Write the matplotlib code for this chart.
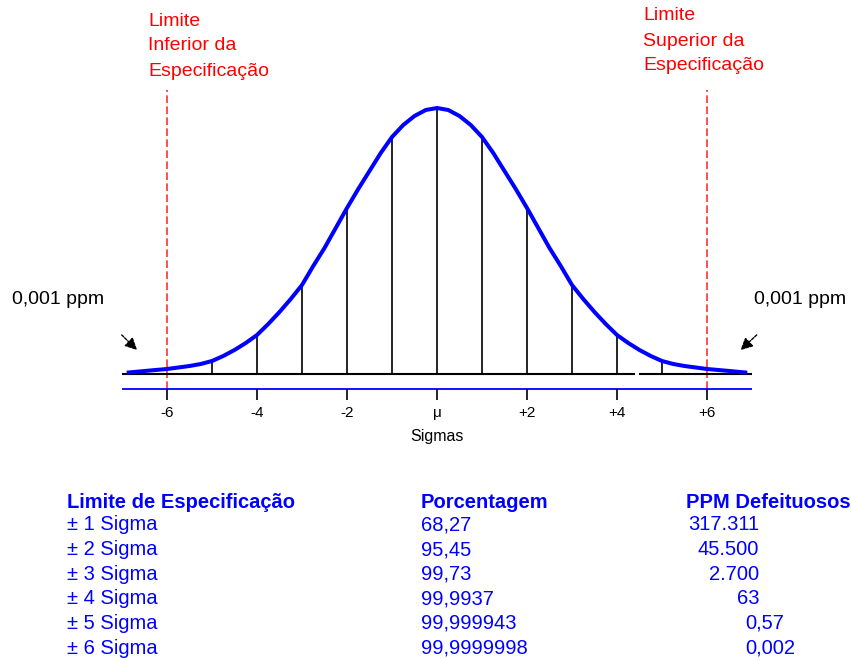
import matplotlib.pyplot as plt

plt.rcParams['font.family'] = ['Liberation Sans', 'DejaVu Sans']

# curve heights (x in sigmas, height in px above the baseline)
sigma_pts = [-6.85, -6.5, -6.25, -6, -5.75, -5.5, -5.25, -5, -4.75, -4.5, -4.25, -4,
             -3.75, -3.5, -3.25, -3, -2.75, -2.5, -2.25, -2, -1.75, -1.5, -1.25, -1,
             -0.75, -0.5, -0.25, 0, 0.25, 0.5, 0.75, 1, 1.25, 1.5, 1.75, 2,
             2.25, 2.5, 2.75, 3, 3.25, 3.5, 3.75, 4, 4.25, 4.5, 4.75, 5,
             5.25, 5.5, 5.75, 6, 6.25, 6.5, 6.85]
heights = [1.5, 3, 4, 5, 6.5, 8, 10, 13, 18, 24, 31, 39,
           50, 62, 75, 89, 108, 126, 146, 166, 185, 203, 221, 237,
           249, 258, 264, 266, 264, 258, 249, 237, 221, 203, 185, 166,
           146, 126, 108, 89, 75, 62, 50, 39, 31, 24, 18, 13,
           10, 8, 6.5, 5, 4, 3, 1.5]

line_pos = [-5, -4, -3, -2, -1, 0, 1, 2, 3, 4, 5]
tick_pos = [-6, -4, -2, 0, 2, 4, 6]
tick_labels = ['-6', '-4', '-2', 'μ', '+2', '+4', '+6']

spec_limits = [-6, 6]

table_header = ['Limite de Especificação', 'Porcentagem', 'PPM Defeituosos']
sigma_rows = ['± 1 Sigma', '± 2 Sigma', '± 3 Sigma', '± 4 Sigma', '± 5 Sigma', '± 6 Sigma']
percent = ['68,27', '95,45', '99,73', '99,9937', '99,999943', '99,9999998']
ppm = ['317.311', '45.500', '2.700', '63', '0,57', '0,002']

blue = '#0000ff'
W, H = 851, 660

fig = plt.figure(figsize=(W / 100, H / 100), dpi=100)
ax = fig.add_axes([0, 0, 1, 1])
# 1 sigma = 45 px, mean at x=437 px, baseline at y=374 px
ax.set_xlim(-437 / 45, (W - 437) / 45)
ax.set_ylim(-(H - 374), 374)
ax.axis('off')

# spec limit lines
ax.vlines(spec_limits, -15, 284, colors='#ff2020', linestyles=(0, (5, 2.2)), lw=1.1, zorder=1)

# baseline (with small gap) and lower blue axis
ax.hlines(0, -7.0, 4.39, colors='black', lw=1.5, zorder=2)
ax.hlines(0, 4.49, 7.0, colors='black', lw=1.5, zorder=2)
ax.hlines(-15, -7.0, 7.0, colors=blue, lw=1.3, zorder=2)
ax.vlines(tick_pos, -26, -15, colors='black', lw=1.2)

# vertical lines under the curve at integer sigmas
line_h = [heights[sigma_pts.index(s)] for s in line_pos]
ax.vlines(line_pos, 0, line_h, colors='black', lw=1.2, zorder=2)

ax.plot(sigma_pts, heights, color=blue, lw=2.9, solid_joinstyle='round', zorder=3)

for p, lab in zip(tick_pos, tick_labels):
    ax.text(p, -39, lab, ha='center', va='center', fontsize=11)
ax.text(0, -63, 'Sigmas', ha='center', va='center', fontsize=11.5)

# spec labels
for i, line in enumerate(['Limite', 'Inferior da', 'Especificação']):
    ax.text(-6.42, 353 - 25 * i, line, color='red', fontsize=14, ha='left', va='center')
for i, line in enumerate(['Limite', 'Superior da', 'Especificação']):
    ax.text(4.58, 358 - 25 * i, line, color='red', fontsize=14, ha='left', va='center')

# 0,001 ppm notes
ax.text(-9.44, 74, '0,001 ppm', fontsize=14, ha='left', va='center')
ax.text(7.04, 74, '0,001 ppm', fontsize=14, ha='left', va='center')
ax.annotate('', xy=(-6.62, 22), xytext=(-7.05, 41),
            arrowprops=dict(arrowstyle='-|>', color='black', lw=1, ls=(0, (2, 1)), mutation_scale=18))
ax.annotate('', xy=(6.7, 22), xytext=(7.15, 41),
            arrowprops=dict(arrowstyle='-|>', color='black', lw=1, ls=(0, (2, 1)), mutation_scale=18))

# table below the chart
col_x = [67, 421, 686]
for x, txt in zip(col_x, table_header):
    fig.text(x / W, 1 - 502 / H, txt, color=blue, fontsize=14.5, fontweight='bold', va='center')
for i in range(len(sigma_rows)):
    y = 1 - (525 + 24.6 * i) / H
    fig.text(67 / W, y, sigma_rows[i], color=blue, fontsize=14.5, va='center')
    fig.text(421 / W, y, percent[i], color=blue, fontsize=14.5, va='center')
    if i < 4:
        fig.text(759 / W, y, ppm[i], color=blue, fontsize=14.5, va='center', ha='right')
    else:
        fig.text(745 / W, y, ppm[i], color=blue, fontsize=14.5, va='center', ha='left')

fig.savefig('out.png', dpi=100)
